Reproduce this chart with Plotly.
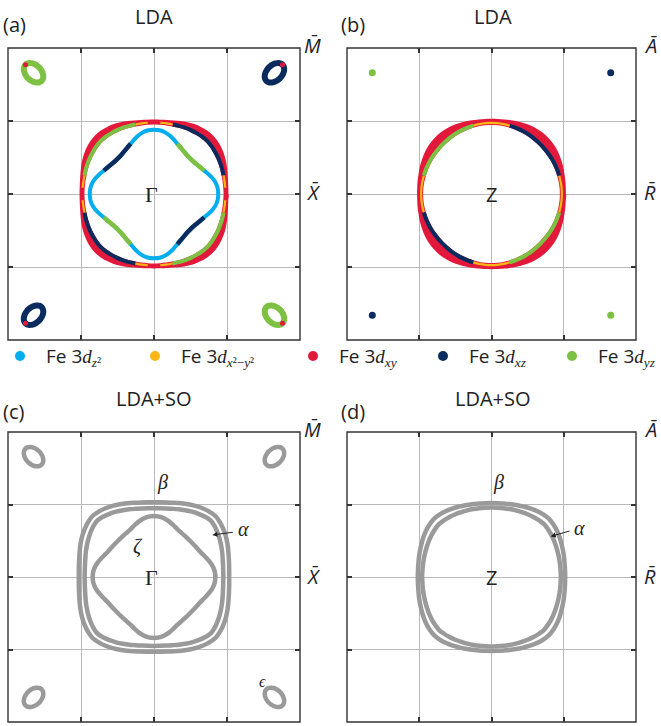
import numpy as np
import plotly.graph_objects as go

# ---------------- data ----------------
# Fermi-surface radii (units of half the zone width), sampled every 5 deg from
# the kx axis to the zone diagonal; the surfaces have square symmetry.
OCT_DEG = [0, 5, 10, 15, 20, 25, 30, 35, 40, 45]

# (a) LDA, Gamma plane
A_ZETA = [0.44, 0.438, 0.43, 0.415, 0.397, 0.379, 0.366, 0.356, 0.349, 0.347]
A_ALPHA = [0.49, 0.49, 0.491, 0.493, 0.497, 0.501, 0.505, 0.509, 0.513, 0.515]
A_BETA = [0.51, 0.511, 0.515, 0.522, 0.532, 0.543, 0.553, 0.561, 0.567, 0.57]
# (b) LDA, Z plane
B_ALPHA = [0.487, 0.487, 0.486, 0.485, 0.484, 0.483, 0.482, 0.481, 0.48, 0.48]
B_BETA = [0.515, 0.516, 0.519, 0.523, 0.529, 0.535, 0.541, 0.546, 0.549, 0.55]
# (c) LDA+SO, Gamma plane
C_ZETA = [0.42, 0.418, 0.41, 0.397, 0.382, 0.369, 0.36, 0.355, 0.352, 0.351]
C_ALPHA = [0.475, 0.476, 0.48, 0.487, 0.497, 0.508, 0.52, 0.532, 0.543, 0.55]
C_BETA = [0.515, 0.517, 0.522, 0.53, 0.541, 0.554, 0.567, 0.579, 0.589, 0.595]
# (d) LDA+SO, Z plane
D_ALPHA = [0.48, 0.48, 0.482, 0.485, 0.489, 0.494, 0.50, 0.506, 0.511, 0.515]
D_BETA = [0.51, 0.511, 0.514, 0.52, 0.527, 0.535, 0.545, 0.554, 0.561, 0.565]

# orbital character along the contours of panels (a)/(b): (from deg, to deg, orbital)
A_ALPHA_SEGS = [(15, 75, "xz"), (105, 165, "yz"), (195, 255, "xz"), (285, 345, "yz")]
A_ALPHA_X2Y2 = [(5, 15), (75, 85), (95, 105), (165, 175), (185, 195),
                (255, 265), (275, 285), (345, 355)]
A_ZETA_SEGS = [(25, 65, "yz"), (115, 155, "xz"), (205, 245, "yz"), (295, 335, "xz")]
B_ALPHA_SEGS = [(15, 75, "xz"), (105, 165, "yz"), (195, 255, "xz"), (285, 345, "yz")]
B_ALPHA_X2Y2 = [(-15, 15), (75, 105), (165, 195), (255, 285)]

# corner (epsilon) pockets
POCKET_XY = [(-0.825, 0.83), (0.825, 0.83), (-0.825, -0.83), (0.825, -0.83)]
POCKET_ORB = ["yz", "xz", "xz", "yz"]
POCKET_AXES = (0.078, 0.053)  # semi-axes, major one along the zone diagonal

ORB_COLOR = {"z2": "#00AEEF", "x2y2": "#FBB515", "xy": "#E3193B",
             "xz": "#0A2B5E", "yz": "#7CC142"}
LEGEND_ORB = ["z2", "x2y2", "xy", "xz", "yz"]
LEGEND_SUB = ["<i>z</i>²", "<i>x</i>²−<i>y</i>²", "<i>xy</i>", "<i>xz</i>", "<i>yz</i>"]

GRAY = "#9A9A9A"
W, H = 661, 726


def unfold(oct_r):
    quad = list(oct_r) + list(oct_r[-2:0:-1])  # 0..85 deg
    return quad * 4                              # 0..355 deg


def xy(oct_r, a0=0, a1=360):
    r = unfold(oct_r)
    deg = np.arange(a0, a1 + 1, 5)
    rr = np.array([r[(d // 5) % 72] for d in deg])
    th = np.radians(deg)
    return rr * np.cos(th), rr * np.sin(th)


fig = go.Figure()


def add_line(ax, x, y, color, width, shape="spline"):
    fig.add_trace(go.Scatter(x=x, y=y, mode="lines", xaxis="x" + ax, yaxis="y" + ax,
                             line=dict(color=color, width=width, shape=shape),
                             hoverinfo="skip", showlegend=False))


def curve(ax, oct_r, color, width, a0=0, a1=360):
    x, y = xy(oct_r, a0, a1)
    add_line(ax, x, y, color, width)


def band(ax, outer, inner, color):
    xo, yo = xy(outer)
    xi, yi = xy(inner)
    fig.add_trace(go.Scatter(x=np.r_[xo, xi[::-1]], y=np.r_[yo, yi[::-1]], mode="lines",
                             xaxis="x" + ax, yaxis="y" + ax, fill="toself",
                             fillcolor=color, line=dict(width=0, shape="spline"),
                             hoverinfo="skip", showlegend=False))


def pocket(ax, cx, cy, color, width, tip=None):
    a, b = POCKET_AXES
    phi = np.radians(np.arange(0, 361, 10))
    psi = np.arctan2(cy, cx)
    u, v = a * np.cos(phi), b * np.sin(phi)
    add_line(ax, cx + u * np.cos(psi) - v * np.sin(psi),
             cy + u * np.sin(psi) + v * np.cos(psi), color, width)
    if tip:
        fig.add_trace(go.Scatter(x=[cx + a * np.cos(psi)], y=[cy + a * np.sin(psi)],
                                 mode="markers", xaxis="x" + ax, yaxis="y" + ax,
                                 marker=dict(color=tip, size=5), hoverinfo="skip",
                                 showlegend=False))


# ---- (a) LDA, Gamma ----
band("", A_BETA, A_ALPHA, ORB_COLOR["xy"])
curve("", A_ALPHA, ORB_COLOR["xy"], 4)
for a0, a1, orb in A_ALPHA_SEGS:
    curve("", A_ALPHA, ORB_COLOR[orb], 4, a0, a1)
for a0, a1 in A_ALPHA_X2Y2:
    curve("", A_ALPHA, ORB_COLOR["x2y2"], 2.2, a0, a1)
curve("", A_ZETA, ORB_COLOR["z2"], 4)
for a0, a1, orb in A_ZETA_SEGS:
    curve("", A_ZETA, ORB_COLOR[orb], 4.5, a0, a1)
for (cx, cy), orb in zip(POCKET_XY, POCKET_ORB):
    pocket("", cx, cy, ORB_COLOR[orb], 6, tip=ORB_COLOR["xy"])

# ---- (b) LDA, Z ----
band("2", B_BETA, B_ALPHA, ORB_COLOR["xy"])
curve("2", B_ALPHA, ORB_COLOR["xy"], 4)
for a0, a1, orb in B_ALPHA_SEGS:
    curve("2", B_ALPHA, ORB_COLOR[orb], 4, a0, a1)
for a0, a1 in B_ALPHA_X2Y2:
    curve("2", B_ALPHA, ORB_COLOR["x2y2"], 2.2, a0, a1)
fig.add_trace(go.Scatter(x=[p[0] for p in POCKET_XY], y=[p[1] for p in POCKET_XY],
                         mode="markers", xaxis="x2", yaxis="y2",
                         marker=dict(color=[ORB_COLOR[o] for o in POCKET_ORB], size=7),
                         hoverinfo="skip", showlegend=False))

# ---- (c) LDA+SO, Gamma ----
for r in (C_BETA, C_ALPHA, C_ZETA):
    curve("3", r, GRAY, 4.5)
for cx, cy in POCKET_XY:
    pocket("3", cx, cy, GRAY, 4.5)

# ---- (d) LDA+SO, Z ----
for r in (D_BETA, D_ALPHA):
    curve("4", r, GRAY, 4.5)

axis = dict(range=[-1, 1], tickvals=[-0.5, 0, 0.5], showticklabels=False,
            ticks="inside", ticklen=5, tickwidth=1.5, tickcolor="#333",
            showgrid=True, gridcolor="#B8B8B8", gridwidth=1.2, zeroline=False,
            showline=False, mirror="allticks", fixedrange=True)
XL, XR = [8 / W, 300 / W], [347 / W, 636 / W]
YT, YB = [1 - 340 / H, 1 - 48 / H], [1 - 722 / H, 1 - 432 / H]
lay = {}
shapes = []
for ax, xd, yd in (("", XL, YT), ("2", XR, YT), ("3", XL, YB), ("4", XR, YB)):
    lay["xaxis" + ax] = dict(axis, domain=xd, anchor="y" + ax)
    lay["yaxis" + ax] = dict(axis, domain=yd, anchor="x" + ax)
    shapes.append(dict(type="rect", xref="x%s domain" % ax, yref="y%s domain" % ax,
                       x0=0, x1=1, y0=0, y1=1, layer="above",
                       line=dict(color="#333", width=1.4)))

TXT = "#222"
SANS = "Open Sans"
SERIF = "Liberation Serif"


def ptext(x, y, s, size=20, anchor="center", family=SANS):
    return dict(x=x / W, y=1 - y / H, xref="paper", yref="paper", text=s,
                showarrow=False, xanchor=anchor, yanchor="middle",
                font=dict(family=family, size=size, color=TXT))


def dtext(ax, x, y, s, size=20, family=SERIF):
    return dict(x=x, y=y, xref="x" + ax, yref="y" + ax, text=s, showarrow=False,
                font=dict(family=family, size=size, color=TXT))


def arrow(ax, x0, y0, x1, y1):
    return dict(x=x1, y=y1, ax=x0, ay=y0, xref="x" + ax, yref="y" + ax,
                axref="x" + ax, ayref="y" + ax, text="", showarrow=True,
                arrowhead=2, arrowsize=1, arrowwidth=1, arrowcolor=TXT)


ann = [
    ptext(1, 25, "(a)", anchor="left"), ptext(154, 17, "LDA"),
    ptext(339, 25, "(b)", anchor="left"), ptext(493, 17, "LDA"),
    ptext(1, 411, "(c)", anchor="left"), ptext(154, 398, "LDA+SO"),
    ptext(339, 411, "(d)", anchor="left"), ptext(493, 398, "LDA+SO"),
    ptext(312, 45, "<i>M̄</i>"), ptext(313, 193, "<i>X̄</i>"),
    ptext(650, 45, "<i>Ā</i>"), ptext(650, 193, "<i>R̄</i>"),
    ptext(312, 429, "<i>M̄</i>"), ptext(313, 576, "<i>X̄</i>"),
    ptext(650, 429, "<i>Ā</i>"), ptext(650, 576, "<i>R̄</i>"),
    dtext("", -0.02, 0.0, "Γ", size=22), dtext("2", 0.0, 0.0, "Z", family=SANS),
    dtext("3", -0.02, 0.0, "Γ", size=22), dtext("4", 0.0, 0.0, "Z", family=SANS),
    dtext("3", 0.06, 0.65, "<i>β</i>"), dtext("3", -0.11, 0.21, "<i>ζ</i>"),
    dtext("3", 0.61, 0.33, "<i>α</i>"), dtext("3", 0.74, -0.72, "<i>ϵ</i>", size=16),
    arrow("3", 0.55, 0.31, 0.40, 0.29),
    dtext("4", 0.05, 0.65, "<i>β</i>"), dtext("4", 0.61, 0.34, "<i>α</i>"),
    arrow("4", 0.55, 0.32, 0.41, 0.28),
]

# legend row (dot + label), placed by hand in pixels
LEG_DOT_X = [20, 155, 313, 443, 572]
LEG_Y = 356
for orb, sub, px in zip(LEGEND_ORB, LEGEND_SUB, LEG_DOT_X):
    shapes.append(dict(type="circle", xref="paper", yref="paper", xsizemode="pixel",
                       ysizemode="pixel", xanchor=px / W, yanchor=1 - LEG_Y / H,
                       x0=-5, x1=5, y0=-5, y1=5, fillcolor=ORB_COLOR[orb],
                       line=dict(width=0)))
    label = ("Fe 3<span style=\"font-family:'Liberation Serif'\"><i>d</i>"
             "<sub>%s</sub></span>" % sub)
    ann.append(ptext(px + 24, LEG_Y, label, size=19, anchor="left"))

fig.update_layout(
    width=W, height=H, margin=dict(l=0, r=0, t=0, b=0),
    paper_bgcolor="white", plot_bgcolor="white",
    font=dict(family=SANS, color=TXT),
    showlegend=False,
    annotations=ann,
    shapes=shapes,
    **lay,
)

fig.write_html("out.html", config={"displayModeBar": False},
               post_script="document.body.style.margin='0';")
